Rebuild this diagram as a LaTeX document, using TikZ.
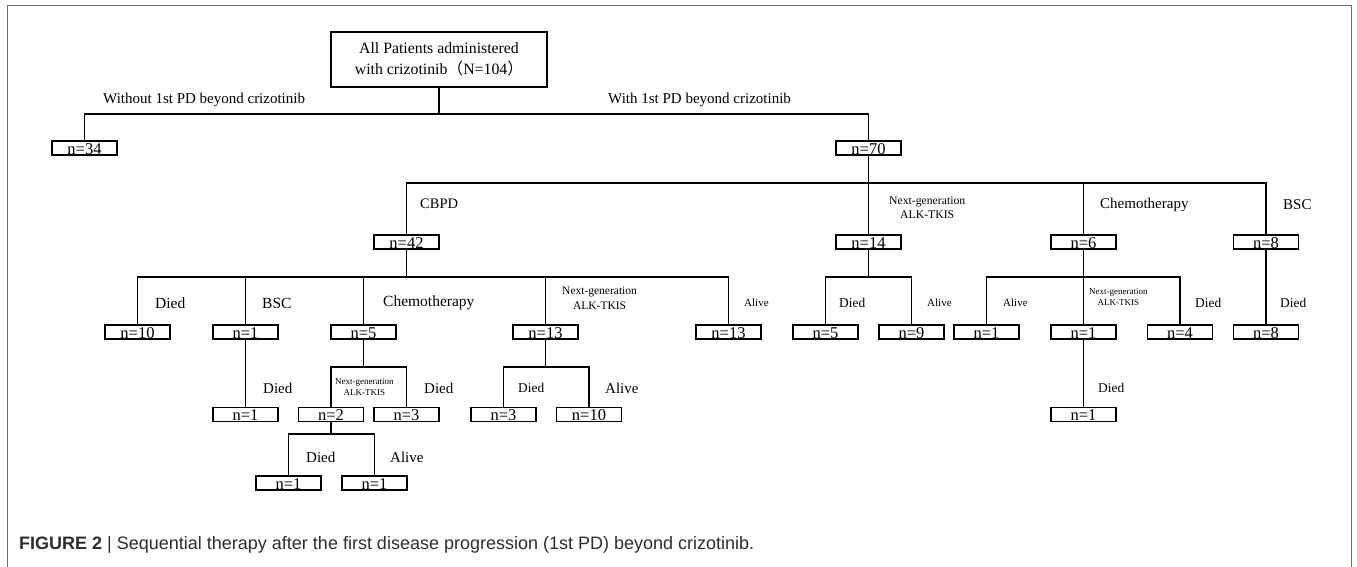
\documentclass[tikz,border=0pt]{standalone}
\usepackage{fontspec}
\setmainfont{Liberation Serif}
\newfontfamily\capfont{Liberation Sans}
\newfontfamily\cjk{Noto Sans CJK SC}
\definecolor{framegray}{RGB}{110,110,110}
\definecolor{capgray}{RGB}{45,45,45}
\newcommand{\setfs}[2]{\fontsize{#1}{#2}\selectfont}

\begin{document}
\begin{tikzpicture}[
        x=1pt, y=-1pt,
        conn/.style={line width=1.3pt},
        count/.style={rectangle, draw, line width=1.4pt, minimum width=65pt, minimum height=14pt, inner sep=0pt, text height=13pt, text depth=0.5pt, font=\setfs{16.5}{16.5}},
        topbox/.style={rectangle, draw, line width=1.4pt, minimum width=216pt, minimum height=55pt, align=center, font=\setfs{15.8}{20.7}},
        lbl/.style={anchor=west, inner sep=0pt, font=\setfs{15}{15}},
        lblm/.style={lbl, font=\setfs{13.4}{13.4}},
        lbls/.style={lbl, font=\setfs{11}{11}},
        ngl/.style={lbl, align=center, font=\setfs{11.7}{13.5}},
        ngs/.style={lbl, align=center, font=\setfs{9}{11}}
    ]
        \useasboundingbox (0,0) rectangle (1357,567);
        \draw[framegray, line width=1pt] (7,575) -- (7,6) -- (1351,6) -- (1351,575);

        % bars of the tree
        \coordinate (barA) at (0,114);
        \coordinate (barB) at (0,183);
        \coordinate (barC) at (0,277);
        \coordinate (barD) at (0,367);
        \coordinate (barE) at (0,434);

        \node[topbox] (all) at (439,59.5) {All Patients administered\\with crizotinib{\cjk （}N=104{\cjk ）}};

        % first split
        \node[count] (n34) at (84.5,148) {n=34};
        \node[count] (n70) at (868.5,148) {n=70};
        \node[lbl] (lWithout) at (103,100) {Without 1st PD beyond crizotinib};
        \node[lbl] (lWith) at (608,100) {With 1st PD beyond crizotinib};

        % therapy after 1st PD
        \node[count] (n42) at (406.5,242) {n=42};
        \node[count] (n14) at (868.5,242) {n=14};
        \node[count] (n6) at (1083.5,242) {n=6};
        \node[count] (n8) at (1266,242) {n=8};
        \node[lbl, font=\setfs{14.5}{14.5}] (lCBPD) at (420,204) {CBPD};
        \node[ngl] (lNextA) at (889,207.5) {Next-generation\\ALK-TKIS};
        \node[lbl] (lChemoA) at (1100,205) {Chemotherapy};
        \node[lbl] (lBscA) at (1283,205) {BSC};

        % third row
        \node[count] (d10) at (137.5,332) {n=10};
        \node[count] (b1) at (245.5,332) {n=1};
        \node[count] (c5) at (363.5,332) {n=5};
        \node[count] (t13) at (545.5,332) {n=13};
        \node[count] (a13) at (728.5,332) {n=13};
        \node[count] (m5) at (825.5,332) {n=5};
        \node[count] (m9) at (911.5,332) {n=9};
        \node[count] (p1) at (986.5,332) {n=1};
        \node[count] (p2) at (1083.5,332) {n=1};
        \node[count] (p4) at (1180,332) {n=4};
        \node[count] (q8) at (1266,332) {n=8};
        \node[lbl, font=\setfs{15.5}{15.5}] (lDiedA) at (155,303) {Died};
        \node[lbl, font=\setfs{15.5}{15.5}] (lBscB) at (262,303) {BSC};
        \node[lbl, font=\setfs{15.5}{15.5}] (lChemoB) at (383,303) {Chemotherapy};
        \node[ngl, font=\setfs{11.5}{15}] (lNextB) at (562,298.5) {Next-generation\\ALK-TKIS};
        \node[lbls] (lAliveA) at (744,303) {Alive};
        \node[lblm] (lDiedB) at (839,303) {Died};
        \node[lbls] (lAliveB) at (927,303) {Alive};
        \node[lbls] (lAliveC) at (1003,303) {Alive};
        \node[ngs] (lNextC) at (1089,297.5) {Next-generation\\ALK-TKIS};
        \node[lblm] (lDiedC) at (1195,303) {Died};
        \node[lblm] (lDiedD) at (1280,303) {Died};

        % fourth row
        \node[count] (u1) at (245.5,414.5) {n=1};
        \node[count] (r2) at (331,414.5) {n=2};
        \node[count] (r3) at (406.5,414.5) {n=3};
        \node[count] (s3) at (503.5,414.5) {n=3};
        \node[count] (s10) at (589,414.5) {n=10};
        \node[count] (v1) at (1083.5,414.5) {n=1};
        \node[lbl] (lDiedE) at (263,388) {Died};
        \node[ngs] (lNextD) at (335,387.5) {Next-generation\\ALK-TKIS};
        \node[lbl] (lDiedF) at (424,388) {Died};
        \node[lblm] (lDiedG) at (518,388) {Died};
        \node[lbl] (lAliveD) at (605,388) {Alive};
        \node[lblm] (lDiedH) at (1098,388) {Died};

        % fifth row
        \node[count] (w1) at (288.5,483) {n=1};
        \node[count] (w2) at (374.5,483) {n=1};
        \node[lbl] (lDiedI) at (306,457) {Died};
        \node[lbl] (lAliveE) at (390,457) {Alive};

        % connectors
        \foreach \c in {n34,n70}
            \draw[conn] (all.south) -- (all.south |- barA) -| (\c.north);
        \foreach \c in {n42,n14,n6,n8}
            \draw[conn] (n70.south) -- (n70.south |- barB) -| (\c.north);
        \foreach \c in {d10,b1,c5,t13,a13}
            \draw[conn] (n42.south) -- (n42.south |- barC) -| (\c.north);
        \foreach \c in {m5,m9}
            \draw[conn] (n14.south) -- (n14.south |- barC) -| (\c.north);
        \foreach \c in {p1,p2,p4}
            \draw[conn] (n6.south) -- (n6.south |- barC) -| (\c.north);
        \draw[conn] (n8.south) -- (q8.north);
        \foreach \c in {r2,r3}
            \draw[conn] (c5.south) -- (c5.south |- barD) -| (\c.north);
        \foreach \c in {s3,s10}
            \draw[conn] (t13.south) -- (t13.south |- barD) -| (\c.north);
        \draw[conn] (b1.south) -- (u1.north);
        \draw[conn] (p2.south) -- (v1.north);
        \foreach \c in {w1,w2}
            \draw[conn] (r2.south) -- (r2.south |- barE) -| (\c.north);

        \node[anchor=west, inner sep=0pt, text=capgray, font=\capfont\setfs{18}{18}] (caption) at (19,545) {{\bfseries FIGURE 2} | Sequential therapy after the first disease progression (1st PD) beyond crizotinib.};
    \end{tikzpicture}
\end{document}
